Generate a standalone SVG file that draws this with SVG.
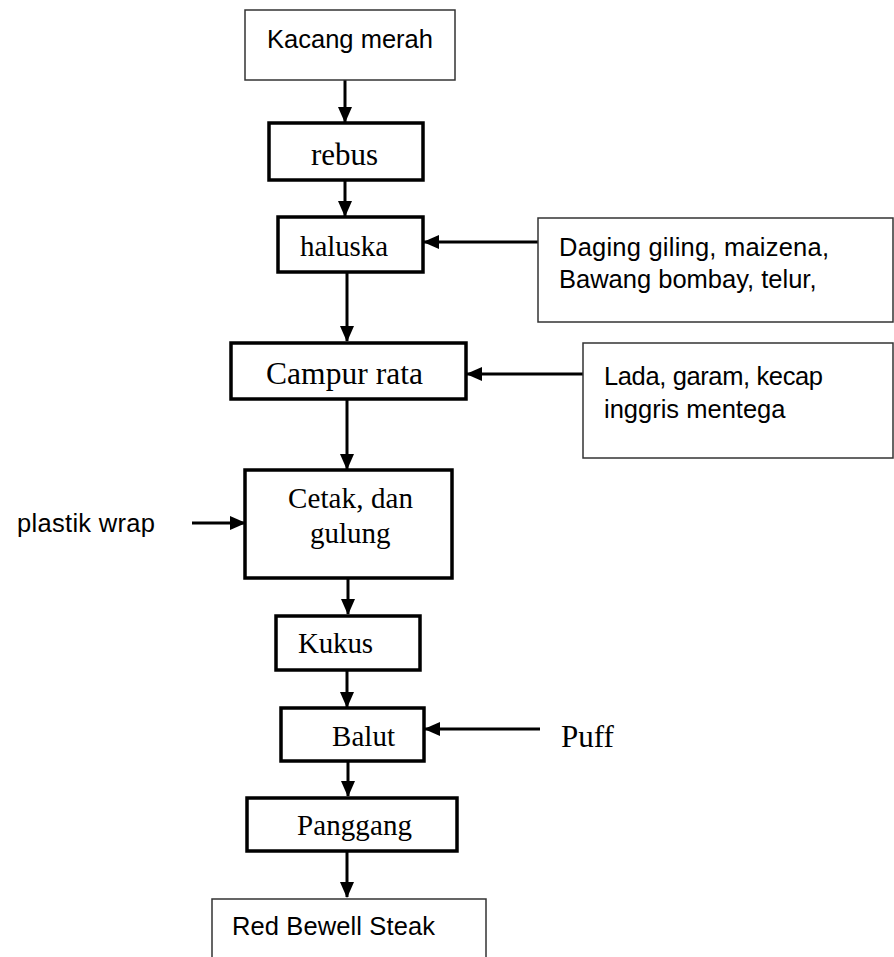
<svg xmlns="http://www.w3.org/2000/svg" width="894" height="957" viewBox="0 0 894 957">
<style>
.thin{fill:#fff;stroke:#333;stroke-width:1.5}
.thick{fill:#fff;stroke:#000;stroke-width:3.5}
.sans{font-family:"Liberation Sans",Arial,sans-serif;font-size:25.5px;fill:#000}
.serif{font-family:"Liberation Serif","Times New Roman",serif;font-size:29px;fill:#000}
.arr{stroke:#000;stroke-width:3;fill:none;marker-end:url(#ah)}
</style>
<defs>
<marker id="ah" markerUnits="userSpaceOnUse" markerWidth="16" markerHeight="14" refX="15" refY="7" orient="auto">
<path d="M0,0 L16,7 L0,14 z" fill="#000"/>
</marker>
</defs>
<rect width="894" height="957" fill="#fff"/>
<g id="connectors">
<line class="arr" x1="345" y1="80" x2="345" y2="122"/>
<line class="arr" x1="345" y1="180" x2="345" y2="216"/>
<line class="arr" x1="538" y1="242" x2="424" y2="242"/>
<line class="arr" x1="347" y1="272" x2="347" y2="341"/>
<line class="arr" x1="583" y1="374" x2="467" y2="374"/>
<line class="arr" x1="347" y1="399" x2="347" y2="469"/>
<line class="arr" x1="192" y1="523" x2="245" y2="523"/>
<line class="arr" x1="348" y1="578" x2="348" y2="614"/>
<line class="arr" x1="347" y1="670" x2="347" y2="707"/>
<line class="arr" x1="540" y1="729" x2="425" y2="729"/>
<line class="arr" x1="348" y1="761" x2="348" y2="796"/>
<line class="arr" x1="347" y1="851" x2="347" y2="897"/>
</g>
<g id="kacang"><rect class="thin" x="245" y="10" width="210" height="70"/><text class="sans" x="267" y="48" textLength="166">Kacang merah</text></g>
<g id="rebus"><rect class="thick" x="269" y="123" width="154" height="57"/><text class="serif" x="311" y="165" style="font-size:31px">rebus</text></g>
<g id="haluska"><rect class="thick" x="278" y="217" width="145" height="55"/><text class="serif" x="300" y="256" textLength="88">haluska</text></g>
<g id="daging"><rect class="thin" x="538" y="218" width="355" height="104"/><text class="sans" x="559" y="256" textLength="270">Daging giling, maizena,</text><text class="sans" x="559" y="288">Bawang bombay, telur,</text></g>
<g id="campur"><rect class="thick" x="231" y="343" width="235" height="56"/><text class="serif" x="266" y="384" style="font-size:31.5px" textLength="157">Campur rata</text></g>
<g id="lada"><rect class="thin" x="583" y="343" width="310" height="115"/><text class="sans" x="604" y="385" textLength="219">Lada, garam, kecap</text><text class="sans" x="604" y="418">inggris mentega</text></g>
<g id="plastik"><text class="sans" x="17" y="532" textLength="138">plastik wrap</text></g>
<g id="cetak"><rect class="thick" x="245" y="470" width="207" height="108"/><text class="serif" x="288" y="508" textLength="125">Cetak, dan</text><text class="serif" x="310" y="543">gulung</text></g>
<g id="kukus"><rect class="thick" x="276" y="616" width="144" height="54"/><text class="serif" x="298" y="653" textLength="75">Kukus</text></g>
<g id="balut"><rect class="thick" x="281" y="708" width="143" height="53"/><text class="serif" x="332" y="746" textLength="63">Balut</text></g>
<g id="puff"><text class="serif" x="561" y="747" style="font-size:31px">Puff</text></g>
<g id="panggang"><rect class="thick" x="247" y="798" width="210" height="53"/><text class="serif" x="297" y="835" textLength="115">Panggang</text></g>
<g id="red"><rect class="thin" x="212" y="899" width="274" height="70"/><text class="sans" x="232" y="935" textLength="203">Red Bewell Steak</text></g>
</svg>
